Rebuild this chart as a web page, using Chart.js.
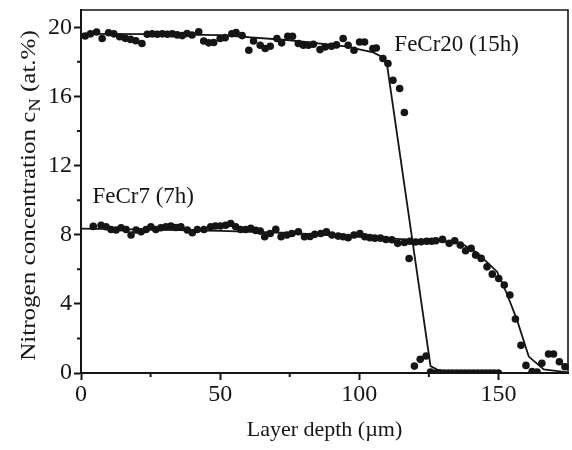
<!DOCTYPE html>
<html>
<head>
<meta charset="utf-8">
<script src="https://cdn.jsdelivr.net/npm/chart.js@4.4.1/dist/chart.umd.min.js"></script>
<style>
  html, body { margin: 0; padding: 0; background: #ffffff; }
  #wrap { width: 572px; height: 450px; }
</style>
</head>
<body>
<div id="wrap"><canvas id="c" width="572" height="450"></canvas></div>
<script>
// Measured nitrogen profiles: depth (µm) and concentration (at.%)
const depthFeCr20 = [1.5, 3.4, 5.6, 7.6, 9.9, 11.8, 13.9, 15.9, 17.8, 19.7, 21.9, 23.8, 25.6, 27.4, 29.2, 31.0,
  32.8, 34.6, 36.4, 38.1, 39.9, 42.3, 44.1, 45.9, 47.7, 50.0, 51.8, 54.2, 55.7, 57.9, 60.3, 62.0, 64.4, 66.2,
  68.0, 70.4, 72.1, 74.3, 76.0, 78.1, 79.9, 81.7, 83.5, 85.9, 87.7, 90.0, 91.8, 94.2, 96.0, 98.1, 100.1, 101.9,
  104.9, 106.1, 108.5, 110.3, 112.1, 114.5, 116.2, 117.9, 119.8, 121.9, 124.0, 125.6, 127.5, 129.0, 130.5,
  132.0, 133.5, 135.0, 136.5, 138.0, 139.5, 141.0, 142.5, 144.0, 145.5, 147.0, 148.5, 150.0];
const nFeCr20 = [19.50, 19.62, 19.73, 19.35, 19.68, 19.62, 19.45, 19.36, 19.30, 19.22, 19.06, 19.60, 19.62, 19.60,
  19.62, 19.60, 19.62, 19.56, 19.52, 19.64, 19.55, 19.74, 19.21, 19.10, 19.12, 19.35, 19.40, 19.63, 19.70, 19.52,
  18.67, 19.21, 18.96, 18.77, 18.90, 19.35, 19.10, 19.48, 19.48, 19.06, 18.96, 18.96, 19.02, 18.71, 18.86, 18.90,
  18.98, 19.35, 18.96, 18.67, 19.15, 19.15, 18.77, 18.80, 18.19, 17.90, 16.94, 16.46, 15.07, 6.62, 0.40, 0.79,
  0.98, 0.05, 0, 0, 0, 0, 0, 0, 0, 0, 0, 0, 0, 0, 0, 0, 0, 0];

const depthFeCr7 = [4.4, 7.2, 9.0, 10.8, 12.6, 14.4, 16.2, 18.0, 19.8, 21.6, 23.4, 25.1, 26.9, 28.7, 30.5, 32.3,
  34.1, 35.9, 38.2, 40.0, 41.8, 44.2, 46.6, 48.3, 50.1, 52.0, 53.8, 55.6, 57.4, 59.2, 61.0, 62.8, 64.4, 66.0,
  68.0, 70.0, 71.9, 74.0, 75.8, 78.1, 80.3, 82.3, 84.0, 86.2, 88.2, 90.2, 92.4, 94.2, 96.0, 98.1, 100.2, 102.0,
  103.8, 105.6, 107.6, 109.6, 111.7, 113.8, 116.2, 118.2, 120.2, 122.2, 124.2, 126.0, 127.5, 129.9, 132.3,
  134.3, 136.3, 138.2, 140.2, 141.8, 143.8, 145.9, 147.8, 150.1, 152.1, 154.1, 156.1, 158.1, 159.9, 162.1,
  163.9, 165.6, 168.0, 169.8, 171.9, 173.9];
const nFeCr7 = [8.48, 8.55, 8.46, 8.30, 8.27, 8.40, 8.30, 7.98, 8.27, 8.17, 8.30, 8.46, 8.30, 8.40, 8.46, 8.50,
  8.42, 8.46, 8.27, 8.11, 8.30, 8.30, 8.46, 8.50, 8.50, 8.55, 8.65, 8.46, 8.30, 8.30, 8.37, 8.25, 8.21, 7.88,
  8.07, 8.32, 7.88, 7.98, 8.07, 8.17, 7.88, 7.90, 8.02, 8.07, 8.17, 7.98, 7.92, 7.88, 7.83, 7.98, 8.07, 7.88,
  7.83, 7.80, 7.80, 7.72, 7.71, 7.50, 7.55, 7.62, 7.58, 7.59, 7.62, 7.62, 7.65, 7.73, 7.50, 7.65, 7.40, 7.07,
  7.21, 6.82, 6.63, 6.14, 5.72, 5.47, 5.09, 4.51, 3.12, 1.60, 0.44, 0.08, 0.05, 0.56, 1.10, 1.10, 0.65, 0.36];

// Fitted diffusion profiles
const fitDepthFeCr20 = [0, 25, 50, 75, 95, 105, 108, 110, 125.6, 128, 131, 140, 150];
const fitFeCr20 = [19.62, 19.60, 19.55, 19.25, 18.90, 18.55, 18.30, 17.80, 0.40, 0.20, 0.08, 0.03, 0.02];
const fitDepthFeCr7 = [0, 25, 50, 75, 100, 120, 130, 136.5, 142.4, 149.5, 153, 156.7, 160.9, 166.3, 175];
const fitFeCr7 = [8.35, 8.30, 8.22, 8.10, 7.88, 7.70, 7.62, 7.52, 6.94, 5.86, 4.60, 3.06, 0.95, 0.21, 0.04];

// Axis ticks
const xTicks = [0, 50, 100, 150];
const xMinorTicks = [25, 75, 125];
const yTicks = [0, 4, 8, 12, 16, 20];
const yMinorTicks = [2, 6, 10, 14, 18];

const seriesNames = ['FeCr20 (15h)', 'FeCr7 (7h)'];
const xTitle = 'Layer depth (\u00b5m)';
const yTitleParts = ['Nitrogen concentration c', 'N', ' (at.%)'];

const toPoints = (xs, ys) => xs.map((x, i) => ({ x: x, y: ys[i] }));

const INK = '#151515';
const SERIF = '"Liberation Serif", "DejaVu Serif", serif';

const decor = {
  id: 'decor',
  afterDraw(chart) {
    const { ctx, chartArea: a, scales } = chart;
    const xs = scales.x, ys = scales.y;
    ctx.save();
    ctx.strokeStyle = INK;
    ctx.fillStyle = INK;
    // top and right frame
    ctx.lineWidth = 1.6;
    ctx.beginPath();
    ctx.moveTo(a.left, a.top);
    ctx.lineTo(a.right, a.top);
    ctx.lineTo(a.right, a.bottom);
    ctx.stroke();
    // minor ticks
    ctx.lineWidth = 2;
    ctx.beginPath();
    xMinorTicks.forEach(v => {
      const px = xs.getPixelForValue(v);
      ctx.moveTo(px, a.bottom);
      ctx.lineTo(px, a.bottom + 4);
    });
    yMinorTicks.forEach(v => {
      const py = ys.getPixelForValue(v);
      ctx.moveTo(a.left, py);
      ctx.lineTo(a.left - 4, py);
    });
    ctx.stroke();
    // series labels
    ctx.font = '23px ' + SERIF;
    ctx.textBaseline = 'middle';
    ctx.textAlign = 'left';
    ctx.fillText(seriesNames[0], xs.getPixelForValue(112.6), ys.getPixelForValue(19.0));
    ctx.fillText(seriesNames[1], xs.getPixelForValue(4.1), ys.getPixelForValue(10.2));
    // y title with subscript, slightly stretched along its length
    const fMain = '22px ' + SERIF, fSub = '16px ' + SERIF;
    ctx.font = fMain;
    const w0 = ctx.measureText(yTitleParts[0]).width;
    const w2 = ctx.measureText(yTitleParts[2]).width;
    ctx.font = fSub;
    const w1 = ctx.measureText(yTitleParts[1]).width;
    const total = w0 + w1 + w2;
    ctx.translate(27, (a.top + a.bottom) / 2 + 4);
    ctx.rotate(-Math.PI / 2);
    ctx.scale(1.14, 1);
    ctx.textBaseline = 'alphabetic';
    const x0 = -total / 2;
    ctx.font = fMain;
    ctx.fillText(yTitleParts[0], x0, 8);
    ctx.font = fSub;
    ctx.fillText(yTitleParts[1], x0 + w0, 13);
    ctx.font = fMain;
    ctx.fillText(yTitleParts[2], x0 + w0 + w1, 8);
    ctx.restore();
  }
};

const pointStyleOpts = {
  pointRadius: 3.8, pointBackgroundColor: INK, pointBorderWidth: 0,
  clip: { left: false, right: false, top: false, bottom: 0 }
};

new Chart(document.getElementById('c'), {
  data: {
    datasets: [
      { type: 'line', data: toPoints(fitDepthFeCr20, fitFeCr20), borderColor: INK, borderWidth: 1.8,
        pointRadius: 0, fill: false, tension: 0 },
      { type: 'line', data: toPoints(fitDepthFeCr7, fitFeCr7), borderColor: INK, borderWidth: 1.8,
        pointRadius: 0, fill: false, tension: 0 },
      Object.assign({ type: 'scatter', label: seriesNames[0], data: toPoints(depthFeCr20, nFeCr20) }, pointStyleOpts),
      Object.assign({ type: 'scatter', label: seriesNames[1], data: toPoints(depthFeCr7, nFeCr7) }, pointStyleOpts)
    ]
  },
  options: {
    responsive: false,
    animation: false,
    devicePixelRatio: 1,
    layout: { padding: { top: 10, right: 1, left: 0, bottom: 0 } },
    plugins: { legend: { display: false }, tooltip: { enabled: false } },
    scales: {
      x: {
        type: 'linear', min: 0, max: 175,
        afterBuildTicks: s => { s.ticks = xTicks.map(v => ({ value: v })); },
        afterFit: s => { s.height = 77; s.paddingLeft = 0; s.paddingRight = 0; },
        grid: { drawOnChartArea: false, drawTicks: true, tickLength: 7, tickWidth: 2, tickColor: INK },
        border: { display: true, color: INK, width: 2 },
        ticks: { color: INK, padding: 0, maxRotation: 0, font: { family: SERIF, size: 24 } },
        title: { display: true, text: xTitle, color: INK, padding: { top: 0, bottom: 7 },
          font: { family: SERIF, size: 22 } }
      },
      y: {
        type: 'linear', min: 0, max: 21,
        afterBuildTicks: s => { s.ticks = yTicks.map(v => ({ value: v })); },
        afterFit: s => { s.width = 81; s.paddingTop = 0; s.paddingBottom = 0; },
        grid: { drawOnChartArea: false, drawTicks: true, tickLength: 7, tickWidth: 2, tickColor: INK },
        border: { display: true, color: INK, width: 2 },
        ticks: { color: INK, padding: 2, font: { family: SERIF, size: 24 } }
      }
    }
  },
  plugins: [decor]
});
</script>
</body>
</html>
